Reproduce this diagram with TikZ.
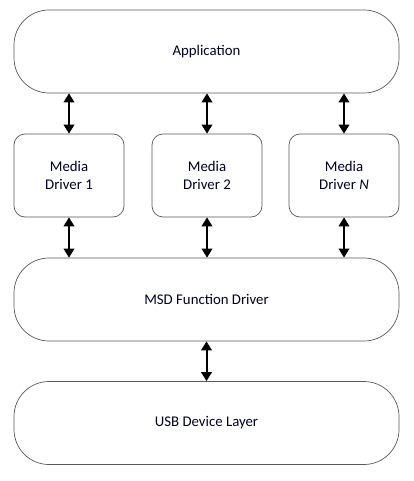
\documentclass[tikz,border=0pt]{standalone}
\usepackage{fontspec}
\setmainfont{Carlito}
\usetikzlibrary{arrows.meta}
\begin{document}
\begin{tikzpicture}[x=1pt,y=-1pt,
  every node/.style={font=\fontsize{14.8}{18}\selectfont, text=black!85!blue},
  layerbox/.style={draw=black!65, line width=0.7pt, rounded corners=35pt, minimum width=385pt, minimum height=83pt, inner sep=0pt},
  mediabox/.style={draw=black!65, line width=0.7pt, rounded corners=11pt, minimum width=110pt, minimum height=83pt, inner sep=0pt, align=center},
  biarrow/.style={line width=2pt, {Triangle[width=10.5pt,length=9pt]}-{Triangle[width=10.5pt,length=9pt]}}]
\useasboundingbox (0,0) rectangle (413,481);
\node[layerbox] (app) at (206.5,51.5) {Application};
\node[mediabox] (m1) at (69,175.5) {Media\\Driver 1};
\node[mediabox] (m2) at (207,175.5) {Media\\Driver 2};
\node[mediabox] (mn) at (344,175.5) {Media\\Driver \textit{N}};
\node[layerbox] (msd) at (206.5,299.5) {MSD Function Driver};
\node[layerbox] (usb) at (206.5,423) {USB Device Layer};
\foreach \m in {m1,m2,mn} {
  \draw[biarrow] (app.south -| \m.north) -- (\m.north);
  \draw[biarrow] (\m.south) -- (msd.north -| \m.south);
}
\draw[biarrow] (msd.south) -- (usb.north);
\end{tikzpicture}
\end{document}
